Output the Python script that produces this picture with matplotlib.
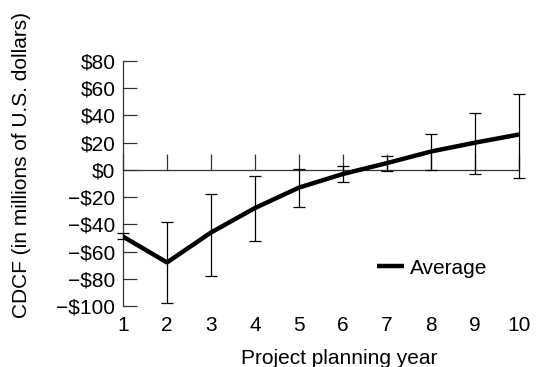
"""CDCF por ano de planejamento do projeto, com faixas de variação."""
import matplotlib
matplotlib.use("Agg")
import matplotlib.pyplot as plt
import numpy as np

plt.rcParams["font.family"] = ["Liberation Sans", "DejaVu Sans"]

years = [1, 2, 3, 4, 5, 6, 7, 8, 9, 10]
average = np.array([-49, -68, -46, -28, -13, -3, 5, 13.5, 20, 26])
upper = np.array([-46, -38, -17.5, -4.5, 0.5, 2.5, 10, 26, 41.5, 55.5])
lower = np.array([-51, -97.5, -78, -52.5, -27, -9, -0.8, 0, -3, -6])
y_ticks = [-100, -80, -60, -40, -20, 0, 20, 40, 60, 80]

FS = 15


def money(v):
    return ("\u2212$%d" % -v) if v < 0 else ("$%d" % v)


fig = plt.figure(figsize=(5.36, 3.67), dpi=100)
ax = fig.add_axes([0.2295, 0.1662, 0.7388, 0.6676])

ax.errorbar(years, average, yerr=[average - lower, upper - average],
            fmt="none", ecolor="black", elinewidth=0.9, capsize=4,
            capthick=0.9, clip_on=False, zorder=3)
line, = ax.plot(years, average, color="black", lw=3.2, zorder=4,
                solid_capstyle="butt", label="Average")

ax.set_xlim(1, 10)
ax.set_ylim(-100, 80)

for side in ("top", "right", "bottom"):
    ax.spines[side].set_visible(False)
ax.spines["left"].set_color("#333333")
ax.spines["left"].set_linewidth(0.9)

ax.set_yticks(y_ticks)
ax.set_yticklabels([money(v) for v in y_ticks])
ax.tick_params(axis="y", direction="in", length=10, width=0.9,
               color="#333333", pad=5.5, labelsize=FS)
ax.set_xticks(years)
ax.tick_params(axis="x", length=0, pad=7, labelsize=FS)

# eixo no zero com marcas para cima
zero = ax.secondary_xaxis(0, transform=ax.transData)
zero.set_xticks(years)
zero.tick_params(axis="x", direction="in", length=11.5, width=0.9,
                 color="#333333", labelbottom=False)
zero.spines["bottom"].set_color("#333333")
zero.spines["bottom"].set_linewidth(0.9)

ax.set_xlabel("Project planning year", fontsize=FS)
ax.xaxis.set_label_coords(0.545, -0.175)
ax.set_ylabel("CDCF (in millions of U.S. dollars)", fontsize=FS)
ax.yaxis.set_label_coords(-0.232, 0.5755)

ax.legend(handles=[line], loc="center left", bbox_to_anchor=(0.641, 0.155),
          frameon=False, fontsize=FS, handlelength=1.3, handletextpad=0.3,
          borderpad=0, borderaxespad=0)

fig.savefig("out.png", dpi=100)
